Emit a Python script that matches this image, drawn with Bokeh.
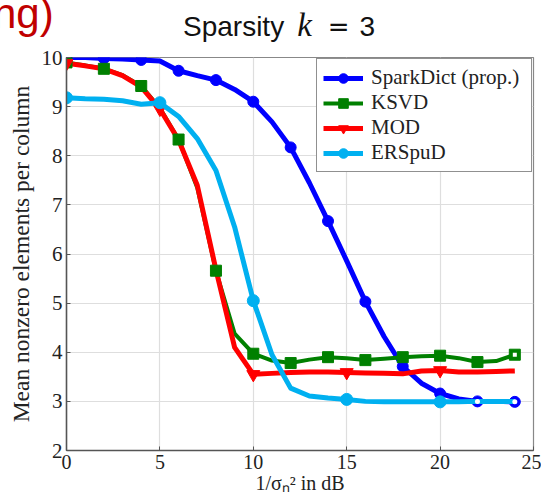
from bokeh.plotting import figure
from bokeh.models import Range1d, Legend, LegendItem, FixedTicker, Div
from bokeh.layouts import column
from bokeh.embed import file_html
from bokeh.resources import INLINE

# ---- data ----
snr_db = list(range(25))  # 1/sigma_n^2 in dB, 0..24
sparkdict = [10.0, 10.0, 9.98, 9.97, 9.95, 9.93, 9.73, 9.63, 9.54, 9.35, 9.1, 8.69, 8.17,
             7.45, 6.67, 5.86, 5.03, 4.32, 3.71, 3.37, 3.16, 3.05, 3.0, 3.0, 2.99]
ksvd = [9.9, 9.84, 9.77, 9.64, 9.42, 8.97, 8.33, 7.35, 5.66, 4.38, 3.97, 3.83, 3.78,
        3.85, 3.9, 3.88, 3.84, 3.87, 3.9, 3.92, 3.93, 3.88, 3.8, 3.82, 3.95]
mod = [9.88, 9.83, 9.77, 9.63, 9.4, 8.95, 8.32, 7.4, 5.68, 4.1, 3.55, 3.57, 3.59,
       3.6, 3.6, 3.59, 3.58, 3.57, 3.56, 3.62, 3.63, 3.6, 3.6, 3.61, 3.62]
erspud = [9.18, 9.16, 9.15, 9.12, 9.05, 9.08, 8.8, 8.35, 7.7, 6.55, 5.05, 3.95, 3.27,
          3.11, 3.07, 3.04, 3.0, 2.99, 2.99, 2.99, 2.99, 2.99, 3.0, 3.0, 3.0]
series_names = ["SparkDict (prop.)", "KSVD", "MOD", "ERSpuD"]
x_ticks = [0, 5, 10, 15, 20, 25]
y_ticks = [2, 3, 4, 5, 6, 7, 8, 9, 10]

SERIF = "Liberation Serif"
SANS = "Liberation Sans"

# ---- title strip (HTML) ----
header_html = (
    '<div style="position:relative;width:541px;height:44px;overflow:visible;">'
    '<span style="position:absolute;left:-7px;top:-7px;font-family:\'Liberation Sans\';'
    'font-size:42px;line-height:42px;color:#c00000;white-space:nowrap;">ng)</span>'
    '<div style="position:absolute;left:183px;top:9px;white-space:nowrap;'
    'font-family:\'Liberation Sans\';font-size:28px;line-height:1;color:#111111;">'
    '<span>Sparsity</span>'
    '<span style="font-family:\'Liberation Serif\';font-style:italic;font-size:33px;'
    'margin-left:13px;">k</span>'
    '<span style="font-family:\'DejaVu Sans\';font-size:26px;margin-left:16px;">=</span>'
    '<span style="margin-left:10px;">3</span>'
    '</div></div>'
)
header = Div(text=header_html, width=541, height=44, margin=0)

p = figure(width=541, height=453, output_backend="svg", toolbar_location=None,
           x_range=Range1d(0, 25), y_range=Range1d(2, 10),
           min_border_left=66, min_border_right=8, min_border_top=13, min_border_bottom=47,
           background_fill_color="white", border_fill_color="white")
p.outline_line_color = "#888888"
p.outline_line_width = 1.2

for ax in (p.xaxis[0], p.yaxis[0]):
    ax.axis_line_color = "#555555"
    ax.axis_line_width = 1.5
    ax.major_tick_in = 4
    ax.major_tick_out = 0
    ax.minor_tick_line_color = None
    ax.major_tick_line_color = "#555555"
    ax.major_label_text_font = SERIF
    ax.major_label_text_color = "#222222"
    ax.axis_label_text_font = SERIF
    ax.axis_label_text_font_style = "normal"
    ax.axis_label_text_color = "#222222"

p.xaxis.ticker = FixedTicker(ticks=x_ticks)
p.yaxis.ticker = FixedTicker(ticks=y_ticks)
p.xaxis.axis_label = "1/σₙ² in dB"
p.yaxis.axis_label = "Mean nonzero elements per column"
p.xaxis.major_label_text_font_size = "20px"
p.yaxis.major_label_text_font_size = "21px"
p.xaxis.axis_label_text_font_size = "20px"
p.yaxis.axis_label_text_font_size = "23.5px"
p.xaxis.major_label_standoff = 4
p.yaxis.major_label_standoff = 4
p.xaxis.axis_label_standoff = 0
p.yaxis.axis_label_standoff = 5

p.xgrid.ticker = FixedTicker(ticks=x_ticks)
p.ygrid.ticker = FixedTicker(ticks=y_ticks)
p.xgrid.grid_line_color = "#dedede"
p.ygrid.grid_line_color = "#dedede"
p.xgrid.grid_line_width = 1.2
p.ygrid.grid_line_width = 1.2

BLUE, GREEN, RED, CYAN = "#0000ff", "#008000", "#ff0000", "#00b0f0"

blue_line = p.line(snr_db, sparkdict, line_color=BLUE, line_width=5, line_join="round")
blue_pts = p.scatter(snr_db[::2], sparkdict[::2], marker="circle", size=11,
                     fill_color=BLUE, line_color=BLUE)
green_line = p.line(snr_db, ksvd, line_color=GREEN, line_width=4, line_join="round")
red_line = p.line(snr_db, mod, line_color=RED, line_width=5, line_join="round")
green_pts = p.scatter(snr_db[::2], ksvd[::2], marker="square", size=11,
                      fill_color=GREEN, line_color=GREEN)
red_pts = p.scatter(snr_db[::5], mod[::5], marker="inverted_triangle", size=13,
                    fill_color=RED, line_color=RED)
cyan_line = p.line(snr_db, erspud, line_color=CYAN, line_width=5, line_join="round")
cyan_pts = p.scatter(snr_db[::5], erspud[::5], marker="circle", size=12,
                     fill_color=CYAN, line_color=CYAN)
# the last markers appear as open rings in the reference
p.scatter(snr_db[22::2], sparkdict[22::2], marker="circle", size=5,
          fill_color="white", line_color=None)
p.scatter(snr_db[24:], ksvd[24:], marker="square", size=4,
          fill_color="white", line_color=None)

legend = Legend(items=[
    LegendItem(label=series_names[0], renderers=[blue_line, blue_pts]),
    LegendItem(label=series_names[1], renderers=[green_line, green_pts]),
    LegendItem(label=series_names[2], renderers=[red_line, red_pts]),
    LegendItem(label=series_names[3], renderers=[cyan_line, cyan_pts]),
], location="top_right")
legend.margin = 1
legend.padding = 6
legend.spacing = 0
legend.glyph_width = 40
legend.glyph_height = 24
legend.label_height = 24
legend.label_width = 154
legend.label_standoff = 8
legend.label_text_font = SERIF
legend.label_text_font_size = "21px"
legend.label_text_color = "#222222"
legend.border_line_color = "#222222"
legend.border_line_width = 1
legend.background_fill_color = "white"
legend.background_fill_alpha = 1.0
p.add_layout(legend)

layout = column(header, p, spacing=0)
open("out.html", "w").write(file_html(layout, INLINE))
